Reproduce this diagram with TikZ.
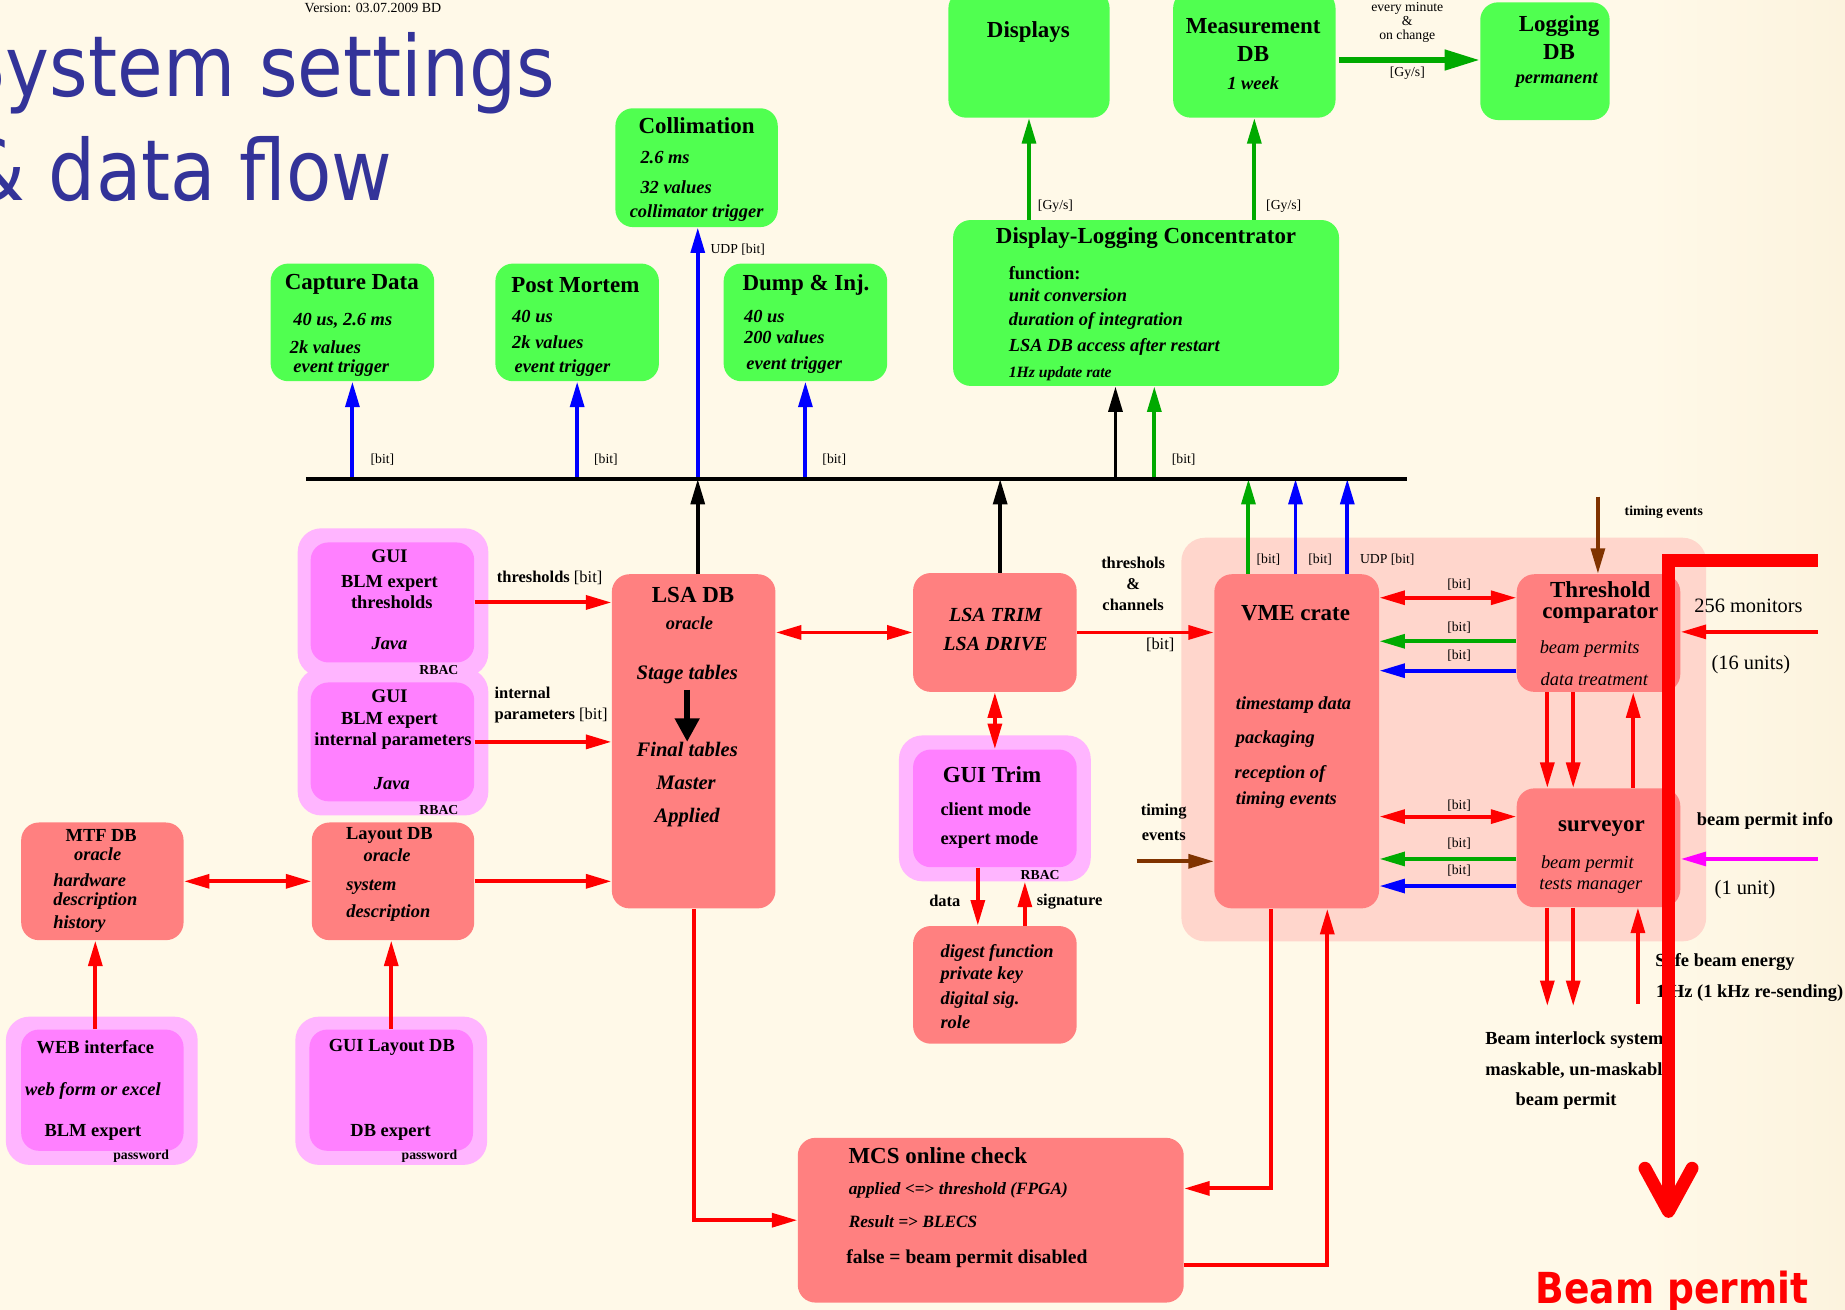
\documentclass[tikz,border=0pt]{standalone}
\usepackage{fontspec}
\setmainfont{Liberation Serif}
\newfontfamily\headfont[FakeStretch=0.88]{DejaVu Sans}
\usepackage{xcolor}
\usetikzlibrary{arrows.meta, positioning, fit, calc}

\definecolor{bg}{RGB}{255,249,232}
\definecolor{bgr}{RGB}{252,243,222}
\definecolor{grn}{RGB}{80,255,80}
\definecolor{sal}{RGB}{255,128,128}
\definecolor{mag}{RGB}{255,128,255}
\definecolor{magl}{RGB}{255,181,255}
\definecolor{pnk}{RGB}{255,214,204}
\definecolor{ttlblue}{RGB}{51,51,153}
\definecolor{dgrn}{RGB}{0,170,0}
\definecolor{brn}{RGB}{128,51,0}
\definecolor{pmag}{RGB}{255,0,255}

\begin{document}
\begin{tikzpicture}[x=0.6pt, y=-0.6pt,
    gbox/.style={fill=grn, rounded corners=9pt, inner sep=0pt},
    rbox/.style={fill=sal, rounded corners=9pt, inner sep=0pt},
    mout/.style={fill=magl, rounded corners=12pt, inner sep=0pt},
    mbox/.style={fill=mag, rounded corners=9pt, inner sep=0pt},
    ttl/.style={inner sep=0pt, font=\fontsize{11.7}{11}\selectfont\bfseries, align=center},
    itm/.style={inner sep=0pt, font=\fontsize{9.4}{10}\selectfont\bfseries\itshape},
    gtx/.style={inner sep=0pt, font=\fontsize{9.4}{10}\selectfont\bfseries},
    lab/.style={inner sep=0pt, font=\fontsize{8.4}{10.8}\selectfont\bfseries, align=center},
    bit/.style={inner sep=0pt, font=\fontsize{7}{7.3}\selectfont, align=center},
    tag/.style={inner sep=0pt, font=\fontsize{7}{8}\selectfont\bfseries},
    big/.style={inner sep=0pt, font=\fontsize{10.4}{11}\selectfont},
    arr/.style={line width=2pt, -{Triangle[length=13pt,width=7pt]}},
    darr/.style={line width=2pt, {Triangle[length=13pt,width=7pt]}-{Triangle[length=13pt,width=7pt]}}
  ]
  \fill[bg] (0,0) rectangle (1568,1113);
  \shade[left color=bg, right color=bgr] (1400,0) rectangle (1568,1113);
  \useasboundingbox (0,0) rectangle (1568,1113);

  % title
  \node[inner sep=0pt, anchor=base] (ver) at (317,11) {\fontsize{7.1}{8}\selectfont Version: 03.07.2009 BD};
  \node[inner sep=0pt, anchor=base east, text=ttlblue, font=\headfont\fontsize{43}{48}\selectfont] (head1) at (472,82) {System settings};
  \node[inner sep=0pt, anchor=base east, text=ttlblue, font=\headfont\fontsize{43}{48}\selectfont] (head2) at (334,170) {\& data flow};

  % green boxes
  \node[gbox, fit={(806,-8) (943,100)}] (disp) {};
  \node[gbox, fit={(997,-8) (1135,100)}] (meas) {};
  \node[gbox, fit={(1258,2) (1368,102)}] (logdb) {};
  \node[gbox, fit={(523,92) (661,193)}] (coll) {};
  \node[gbox, fit={(230,224) (369,324)}] (capt) {};
  \node[gbox, fit={(421,224) (560,324)}] (pm) {};
  \node[gbox, fit={(615,224) (754,324)}] (dump) {};
  \node[gbox, fit={(810,187) (1138,328)}] (dlc) {};

  \node[ttl] (disp-t) at (874,27) {Displays};
  \node[ttl] (meas-t) at (1065,34) {Measurement\\[3pt]DB};
  \node[itm] (meas-a) at (1065,71) {1 week};
  \node[ttl] (logdb-t) at (1325,32) {Logging\\[3pt]DB};
  \node[itm] (logdb-a) at (1323,68) {permanent};
  \node[ttl] (coll-t) at (592,107) {Collimation};
  \node[itm, anchor=west] (coll-a) at (544,134) {2.6 ms};
  \node[itm, anchor=west] (coll-b) at (544,159) {32 values};
  \node[itm] (coll-c) at (592,181) {collimator trigger};
  \node[ttl] (capt-t) at (299,242) {Capture Data};
  \node[itm, anchor=west] (capt-a) at (249,273) {40 us, 2.6 ms};
  \node[itm, anchor=west] (capt-b) at (246,295) {2k values};
  \node[itm, anchor=west] (capt-c) at (249,313) {event trigger};
  \node[ttl] (pm-t) at (489,242) {Post Mortem};
  \node[itm, anchor=west] (pm-a) at (435,269) {40 us};
  \node[itm, anchor=west] (pm-b) at (435,291) {2k values};
  \node[itm, anchor=west] (pm-c) at (437,313) {event trigger};
  \node[ttl] (dump-t) at (685,242) {Dump \& Inj.};
  \node[itm, anchor=west] (dump-a) at (632,269) {40 us};
  \node[itm, anchor=west] (dump-b) at (632,287) {200 values};
  \node[itm, anchor=west] (dump-c) at (634,310) {event trigger};
  \node[ttl] (dlc-t) at (974,202) {Display-Logging Concentrator};
  \node[gtx, anchor=west] (dlc-f) at (857,232) {function:};
  \node[itm, anchor=west] (dlc-a) at (857,251) {unit conversion};
  \node[itm, anchor=west] (dlc-b) at (857,273) {duration of integration};
  \node[itm, anchor=west] (dlc-c) at (857,295) {LSA DB access after restart};
  \node[itm, anchor=west, font=\fontsize{8}{9}\selectfont\bfseries\itshape] (dlc-d) at (857,318) {1Hz update rate};

  % VME area
  \node[fill=pnk, rounded corners=12pt, inner sep=0pt, fit={(1004,457) (1450,800)}] (vmearea) {};

  % red boxes
  \node[rbox, fit={(520,488) (659,772)}] (lsadb) {};
  \node[rbox, fit={(776,487) (915,588)}] (trim) {};
  \node[rbox, fit={(1032,488) (1172,772)}] (vme) {};
  \node[rbox, fit={(1289,488) (1428,588)}] (thr) {};
  \node[rbox, fit={(1289,670) (1428,771)}] (surv) {};
  \node[rbox, fit={(18,699) (156,799)}] (mtf) {};
  \node[rbox, fit={(265,699) (403,799)}] (lay) {};
  \node[rbox, fit={(776,787) (915,887)}] (dig) {};
  \node[rbox, fit={(678,967) (1006,1107)}] (mcs) {};

  \node[ttl] (lsadb-t) at (589,506) {LSA DB};
  \node[itm] (lsadb-a) at (586,530) {oracle};
  \node[itm, font=\fontsize{10.5}{11}\selectfont\bfseries\itshape] (stage) at (584,573) {Stage tables};
  \node[itm, font=\fontsize{10.5}{11}\selectfont\bfseries\itshape] (final) at (584,637) {Final tables};
  \node[itm, font=\fontsize{10.5}{11}\selectfont\bfseries\itshape] (lsadb-m) at (583,665) {Master};
  \node[itm, font=\fontsize{10.5}{11}\selectfont\bfseries\itshape] (lsadb-p) at (584,695) {Applied};
  \draw[line width=3.2pt, -{Triangle[length=12pt,width=12pt]}, shorten <=3pt] (stage.south) -- (final.north);
  \node[itm, font=\fontsize{10.2}{14.5}\selectfont\bfseries\itshape, align=center] (trim-t) at (846,535) {LSA TRIM\\LSA DRIVE};
  \node[ttl] (vme-t) at (1101,521) {VME crate};
  \node[itm, anchor=west] (vme-a) at (1050,599) {timestamp data};
  \node[itm, anchor=west] (vme-b) at (1050,628) {packaging};
  \node[itm, anchor=west] (vme-c) at (1049,658) {reception of};
  \node[itm, anchor=west] (vme-d) at (1050,680) {timing events};
  \node[ttl] (thr-t) at (1360,512) {Threshold\\comparator};
  \node[inner sep=0pt, font=\fontsize{9.4}{10}\selectfont\itshape] (thr-a) at (1351,552) {beam permits};
  \node[inner sep=0pt, font=\fontsize{9.4}{10}\selectfont\itshape] (thr-b) at (1355,577) {data treatment};
  \node[ttl] (surv-t) at (1361,704) {surveyor};
  \node[inner sep=0pt, font=\fontsize{9.4}{10}\selectfont\itshape] (surv-a) at (1349,734) {beam permit};
  \node[inner sep=0pt, font=\fontsize{9.4}{10}\selectfont\itshape] (surv-b) at (1352,753) {tests manager};
  \node[gtx] (mtf-t) at (86,710) {MTF DB};
  \node[itm] (mtf-a) at (83,726) {oracle};
  \node[itm, anchor=west] (mtf-b) at (45,748) {hardware};
  \node[itm, anchor=west] (mtf-c) at (45,766) {description};
  \node[itm, anchor=west] (mtf-d) at (45,785) {history};
  \node[gtx] (lay-t) at (331,710) {Layout DB};
  \node[itm] (lay-a) at (329,727) {oracle};
  \node[itm, anchor=west] (lay-b) at (294,754) {system};
  \node[itm, anchor=west] (lay-c) at (294,776) {description};
  \node[itm, anchor=west] (dig-a) at (799,810) {digest function};
  \node[itm, anchor=west] (dig-b) at (799,829) {private key};
  \node[itm, anchor=west] (dig-c) at (799,850) {digital sig.};
  \node[itm, anchor=west] (dig-d) at (799,869) {role};
  \node[ttl] (mcs-t) at (797,982) {MCS online check};
  \node[itm, anchor=west, font=\fontsize{8.8}{10}\selectfont\bfseries\itshape] (mcs-a) at (721,1012) {applied \textup{<=>} threshold (FPGA)};
  \node[itm, anchor=west, font=\fontsize{8.8}{10}\selectfont\bfseries\itshape] (mcs-b) at (721,1038) {Result \textup{=>} BLECS};
  \node[gtx, anchor=west, font=\fontsize{10}{11}\selectfont\bfseries] (mcs-c) at (719,1070) {false = beam permit disabled};

  % magenta boxes
  \node[mout, fit={(253,568) (415,693)}] (gino) {};
  \node[mout, fit={(253,449) (415,575)}] (gtho) {};
  \node[mbox, fit={(264,461) (403,563)}] (gth) {};
  \node[mbox, fit={(264,580) (403,681)}] (gin) {};
  \node[mout, fit={(764,625) (927,749)}] (gtro) {};
  \node[mbox, fit={(776,637) (915,737)}] (gtr) {};
  \node[mout, fit={(5,864) (168,990)}] (webo) {};
  \node[mbox, fit={(18,875) (156,978)}] (webi) {};
  \node[mout, fit={(251,864) (414,990)}] (glo) {};
  \node[mbox, fit={(263,875) (402,978)}] (gli) {};

  \node[gtx, font=\fontsize{9.8}{10}\selectfont\bfseries] (gth-t) at (331,473) {GUI};
  \node[gtx] (gth-a) at (331,496) {BLM expert};
  \node[gtx] (gth-b) at (333,512) {thresholds};
  \node[itm] (gth-c) at (331,547) {Java};
  \node[tag] (gth-r) at (373,569) {RBAC};
  \node[gtx, font=\fontsize{9.8}{10}\selectfont\bfseries] (gin-t) at (331,592) {GUI};
  \node[gtx] (gin-a) at (331,612) {BLM expert};
  \node[gtx] (gin-b) at (334,630) {internal parameters};
  \node[itm] (gin-c) at (333,666) {Java};
  \node[tag] (gin-r) at (373,688) {RBAC};
  \node[ttl] (gtr-t) at (843,658) {GUI Trim};
  \node[gtx, anchor=west] (gtr-a) at (799,688) {client mode};
  \node[gtx, anchor=west] (gtr-b) at (799,714) {expert mode};
  \node[tag] (gtr-r) at (884,744) {RBAC};
  \node[gtx] (web-t) at (81,890) {WEB interface};
  \node[itm] (web-a) at (79,927) {web form or excel};
  \node[gtx] (web-b) at (79,962) {BLM expert};
  \node[tag] (web-r) at (120,983) {password};
  \node[gtx] (gli-t) at (333,890) {GUI Layout DB};
  \node[gtx] (gli-a) at (332,962) {DB expert};
  \node[tag] (gli-r) at (365,983) {password};

  % bus
  \coordinate (busw) at (260,407);
  \coordinate (buse) at (1196,407);
  \coordinate (b-lsa) at (593,407);
  \coordinate (b-trim) at (850,407);
  \coordinate (b-dk) at (948,407);
  \coordinate (b-dg) at (981,407);
  \coordinate (b-v1) at (1061,407);
  \coordinate (b-v2) at (1101,407);
  \coordinate (b-v3) at (1145,407);
  \draw[arr, blue] (capt.south |- busw) -- (capt.south);
  \draw[arr, blue] (pm.south |- busw) -- (pm.south);
  \draw[arr, blue] (b-lsa) -- (b-lsa |- coll.south);
  \draw[arr, blue] (dump.south |- busw) -- (dump.south);
  \draw[arr, black] (b-dk) -- (b-dk |- dlc.south);
  \draw[arr, dgrn] (b-dg) -- (b-dg |- dlc.south);
  \draw[arr, black] (b-lsa |- lsadb.north) -- (b-lsa);
  \draw[arr, black] (b-trim |- trim.north) -- (b-trim);
  \draw[arr, dgrn] (b-v1 |- vme.north) -- (b-v1);
  \draw[arr, blue] (b-v2 |- vme.north) -- (b-v2);
  \draw[arr, blue] (b-v3 |- vme.north) -- (b-v3);
  \draw[line width=2.4pt] (busw) -- (buse);
  \node[bit] (l-capt) at (325,391) {[bit]};
  \node[bit] (l-pm) at (515,391) {[bit]};
  \node[bit] (l-coll) at (627,212) {UDP [bit]};
  \node[bit] (l-dump) at (709,391) {[bit]};
  \node[bit] (l-dlc) at (1006,391) {[bit]};
  \node[bit] (l-v1) at (1078,476) {[bit]};
  \node[bit] (l-v2) at (1122,476) {[bit]};
  \node[bit] (l-v3) at (1179,476) {UDP [bit]};

  % logging chain
  \draw[arr, dgrn] (disp.south |- dlc.north) -- (disp.south);
  \draw[arr, dgrn] (meas.south |- dlc.north) -- (meas.south);
  \draw[dgrn, line width=3pt, -{Triangle[length=18pt,width=10pt]}] ($(meas.east)+(3,5)$) -- ($(logdb.west)+(0,-1)$);
  \node[bit] (l-disp) at (897,175) {[Gy/s]};
  \node[bit] (l-meas) at (1091,175) {[Gy/s]};
  \node[bit] (l-log1) at (1196,19) {every minute\\\&\\on change};
  \node[bit] (l-log2) at (1196,62) {[Gy/s]};

  % settings side
  \draw[arr, red] (gth.east) -- (gth.east -| lsadb.west);
  \draw[arr, red] (gin.east) -- (gin.east -| lsadb.west);
  \draw[arr, red] (lay.east) -- (lay.east -| lsadb.west);
  \draw[darr, red] (mtf.east) -- (lay.west);
  \draw[arr, red] ($(webi.north)+(-6,0)$) -- ($(mtf.south)+(-6,0)$);
  \draw[arr, red] (gli.north) -- (gli.north |- lay.south);
  \draw[darr, red] (trim.west -| lsadb.east) -- (trim.west);
  \draw[arr, red] (trim.east) -- (trim.east -| vme.west);
  \draw[darr, red] (trim.south) -- (gtr.north);
  \draw[arr, red] ($(gtr.south)+(-14.5,0)$) -- ($(dig.north)+(-14.5,0)$);
  \draw[arr, red] ($(dig.north)+(25.5,0)$) -- ($(gtro.south)+(25.5,0)$);
  \node[lab, anchor=west] (l-gth) at (422,491) {thresholds \fontsize{8.4}{9}\mdseries[bit]};
  \node[lab, anchor=west, align=left] (l-gin) at (420,599) {internal\\parameters \mdseries[bit]};
  \node[lab] (l-trim) at (963,496) {threshols\\\&\\channels};
  \node[bit, font=\fontsize{8.4}{9}\selectfont] (l-trim2) at (986,548) {[bit]};
  \node[lab] (l-data) at (803,766) {data};
  \node[lab] (l-sig) at (909,766) {signature};
  \node[lab] (l-tev) at (989,699) {timing\\[2pt]events};

  % VME crate and comparators
  \coordinate (tev) at (966,732);
  \draw[arr, brn] (tev) -- (tev -| vme.west);
  \coordinate (t1) at ($(thr.west)+(0,-30)$);
  \coordinate (t2) at ($(thr.west)+(0,7)$);
  \coordinate (t3) at ($(thr.west)+(0,32)$);
  \coordinate (s1) at ($(surv.west)+(0,-26.5)$);
  \coordinate (s2) at ($(surv.west)+(0,9.5)$);
  \coordinate (s3) at ($(surv.west)+(0,32.5)$);
  \draw[darr, red] (vme.east |- t1) -- (t1);
  \draw[arr, dgrn] (t2) -- (vme.east |- t2);
  \draw[arr, blue] (t3) -- (vme.east |- t3);
  \draw[darr, red] (vme.east |- s1) -- (s1);
  \draw[arr, dgrn] (s2) -- (vme.east |- s2);
  \draw[arr, blue] (s3) -- (vme.east |- s3);
  \foreach \yy/\nm in {497/a, 533/b, 557/c, 685/d, 717/e, 740/f}
    \node[bit] (l-vb\nm) at (1240,\yy) {[bit]};
  \coordinate (ts1) at ($(thr.south)+(-43.5,0)$);
  \coordinate (ts2) at ($(thr.south)+(-21.5,0)$);
  \coordinate (ts3) at ($(thr.south)+(29.5,0)$);
  \draw[arr, red] (ts1) -- (ts1 |- surv.north);
  \draw[arr, red] (ts2) -- (ts2 |- surv.north);
  \draw[arr, red] (ts3 |- surv.north) -- (ts3);
  \coordinate (tev2) at (1358,422);
  \draw[arr, brn] (tev2) -- (tev2 |- thr.north);
  \node[tag] (l-tev2) at (1414,435) {timing events};
  \coordinate (mon) at (1545,537);
  \draw[arr, red] (mon) -- (mon -| thr.east);
  \node[big] (l-mon) at (1486,515) {256 monitors};
  \node[big] (l-mon2) at (1488,565) {(16 units)};
  \coordinate (bpi) at (1545,730);
  \draw[arr, pmag] (bpi) -- (bpi -| surv.east);
  \node[gtx] (l-bpi) at (1500,698) {beam permit info};
  \node[big] (l-bpi2) at (1483,756) {(1 unit)};
  \coordinate (bis1) at (1315,855);
  \coordinate (bis2) at (1337,855);
  \coordinate (sbe) at (1392,853);
  \draw[arr, red] (bis1 |- surv.south) -- (bis1);
  \draw[arr, red] (bis2 |- surv.south) -- (bis2);
  \draw[arr, red] (sbe) -- (sbe |- surv.south);
  \node[gtx] (l-sbe) at (1466,818) {Safe beam energy};
  \node[gtx] (l-sbe2) at (1487,844) {1 Hz (1 kHz re-sending)};
  \node[gtx, anchor=west] (l-bis) at (1262,884) {Beam interlock system};
  \node[gtx, anchor=west] (l-bis2) at (1262,910) {maskable, un-maskable};
  \node[gtx] (l-bis3) at (1331,936) {beam permit};

  % online check loop
  \draw[arr, red] (lsadb.south) |- (mcs.west);
  \draw[arr, red] ($(vme.south)+(-22,0)$) |- ($(mcs.east)+(0,-27)$);
  \draw[arr, red] ($(mcs.east)+(0,38)$) -| ($(vme.south)+(26,0)$);

  % beam permit out
  \coordinate (bpin) at (1545,476);
  \coordinate (bpout) at (1418,1035);
  \draw[red, line width=6.6pt, -{Straight Barb[round, length=22pt, width=24pt]}] (bpin) -| (bpout);
  \node[inner sep=0pt, anchor=base, text=red, font=\headfont\bfseries\fontsize{21.8}{24}\selectfont] (bp) at (1421,1108) {Beam permit};
\end{tikzpicture}
\end{document}
